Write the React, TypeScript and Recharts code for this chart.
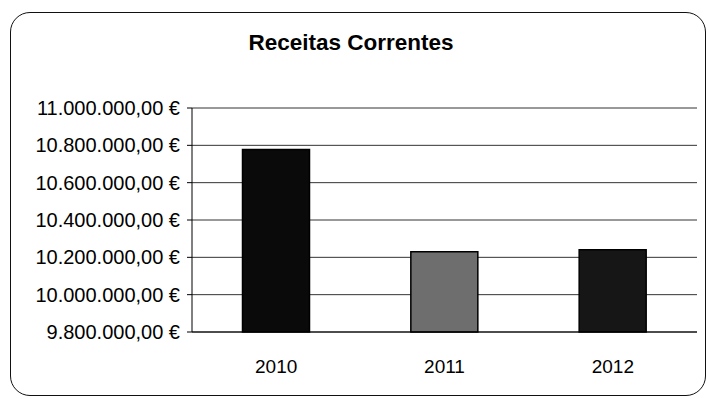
import { BarChart, Bar, XAxis, YAxis, CartesianGrid, Cell, ReferenceLine } from 'recharts'

const years = ['2010', '2011', '2012']
const receitas = [10778000, 10230000, 10240000]
const barColors = ['#0a0a0a', '#6e6e6e', '#161616']
const yTicks = [9800000, 10000000, 10200000, 10400000, 10600000, 10800000, 11000000]

const data = years.map((year, i) => ({ year, value: receitas[i] }))

const FONT = '"Liberation Sans", Arial, sans-serif'

function euro(v: number) {
  const s = Math.round(v).toString().replace(/\B(?=(\d{3})+(?!\d))/g, '.')
  return `${s},00 €`
}

export default function App() {
  return (
    <div style={{ position: 'fixed', left: 0, top: 0, width: 708, height: 399, background: '#fff', fontFamily: FONT }}>
      <div style={{
        position: 'absolute',
        left: 10,
        top: 12,
        width: 694,
        height: 382,
        border: '1.5px solid #111',
        borderRadius: 20
      }} />
      <div style={{
        position: 'absolute',
        left: 0,
        width: 702,
        top: 30,
        textAlign: 'center',
        fontSize: 22.5,
        fontWeight: 'bold',
        color: '#000'
      }}>
        Receitas Correntes
      </div>
      <div style={{ position: 'absolute', left: 0, top: 0 }}>
        <BarChart
          width={708}
          height={399}
          data={data}
          margin={{ top: 108, right: 11, left: 0, bottom: 17 }}
          barCategoryGap="30%"
        >
          <CartesianGrid vertical={false} stroke="#333" strokeWidth={1} />
          <XAxis
            dataKey="year"
            xAxisId="cat"
            height={50}
            tickLine={false}
            axisLine={{ stroke: '#000' }}
            tick={{ fill: '#000', fontSize: 19, fontFamily: FONT }}
            tickMargin={22}
          />
          <XAxis
            xAxisId="marks"
            type="number"
            domain={[0, 3]}
            ticks={[1, 2, 3]}
            hide
          />
          <YAxis
            width={192}
            domain={[9800000, 11000000]}
            ticks={yTicks}
            tickFormatter={euro}
            interval={0}
            axisLine={{ stroke: '#000' }}
            tickLine={{ stroke: '#000' }}
            tickSize={5}
            tickMargin={7}
            tick={{ fill: '#000', fontSize: 20, fontFamily: FONT }}
          />
          <ReferenceLine xAxisId="marks" x={3} stroke="#333" />
          <Bar dataKey="value" xAxisId="cat" stroke="#000" strokeWidth={1.5} isAnimationActive={false}>
            {data.map((d, i) => (
              <Cell key={d.year} fill={barColors[i]} />
            ))}
          </Bar>
        </BarChart>
      </div>
    </div>
  )
}
